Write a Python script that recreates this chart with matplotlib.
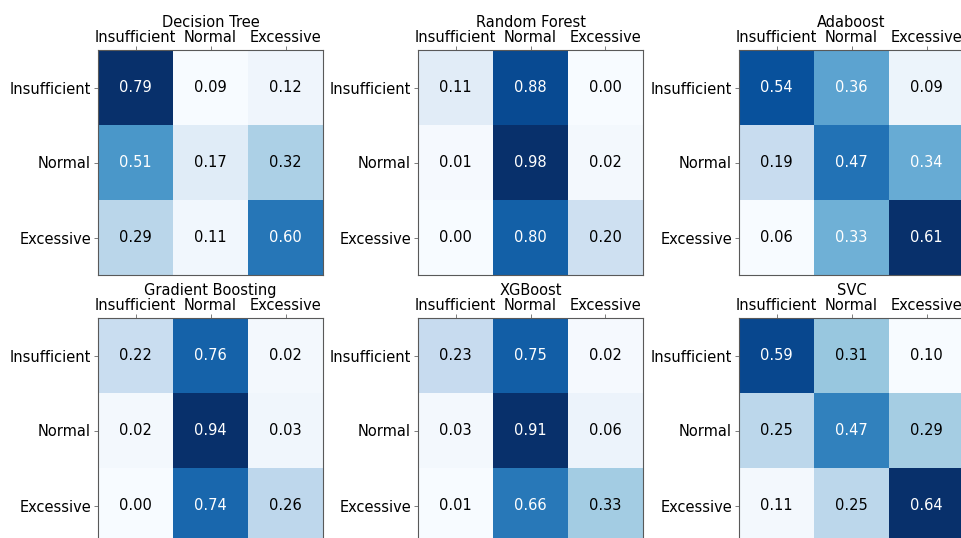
import numpy as np
import matplotlib
matplotlib.use("Agg")
import matplotlib.pyplot as plt

classes = ["Insufficient", "Normal", "Excessive"]

model_names = ["Decision Tree", "Random Forest", "Adaboost",
               "Gradient Boosting", "XGBoost", "SVC"]

decision_tree = [[0.79, 0.09, 0.12],
                 [0.51, 0.17, 0.32],
                 [0.29, 0.11, 0.60]]
random_forest = [[0.11, 0.88, 0.00],
                 [0.01, 0.98, 0.02],
                 [0.00, 0.80, 0.20]]
adaboost = [[0.54, 0.36, 0.09],
            [0.19, 0.47, 0.34],
            [0.06, 0.33, 0.61]]
gradient_boosting = [[0.22, 0.76, 0.02],
                     [0.02, 0.94, 0.03],
                     [0.00, 0.74, 0.26]]
xgboost = [[0.23, 0.75, 0.02],
           [0.03, 0.91, 0.06],
           [0.01, 0.66, 0.33]]
svc = [[0.59, 0.31, 0.10],
       [0.25, 0.47, 0.29],
       [0.11, 0.25, 0.64]]

matrices = [decision_tree, random_forest, adaboost,
            gradient_boosting, xgboost, svc]

W, H = 961, 538
fig = plt.figure(figsize=(W / 100, H / 100), dpi=100)

lefts = [98, 418, 739]
tops = [50, 318]
size = 225
fs = 10.5

for k, (name, cm) in enumerate(zip(model_names, matrices)):
    cm = np.array(cm)
    r, c = divmod(k, 3)
    ax = fig.add_axes([lefts[c] / W, (H - tops[r] - size) / H, size / W, size / H])
    ax.imshow(cm, cmap="Blues", aspect="auto", interpolation="nearest")
    thresh = cm.max() / 2.0
    for i in range(3):
        for j in range(3):
            ax.text(j, i, f"{cm[i, j]:.2f}", ha="center", va="center",
                    fontsize=fs, color="white" if cm[i, j] > thresh else "black")
    ax.xaxis.tick_top()
    ax.set_xticks(range(3))
    ax.set_yticks(range(3))
    ax.set_xticklabels(classes, fontsize=fs)
    ax.set_yticklabels(classes, fontsize=fs)
    ax.tick_params(length=3, width=0.6, color="0.4")
    ax.tick_params(axis="x", pad=0.5)
    ax.tick_params(axis="y", pad=2)
    for sp in ax.spines.values():
        sp.set_color("0.35")
    ax.set_title(name, fontsize=fs, pad=0)

fig.savefig("out.png", dpi=100)
